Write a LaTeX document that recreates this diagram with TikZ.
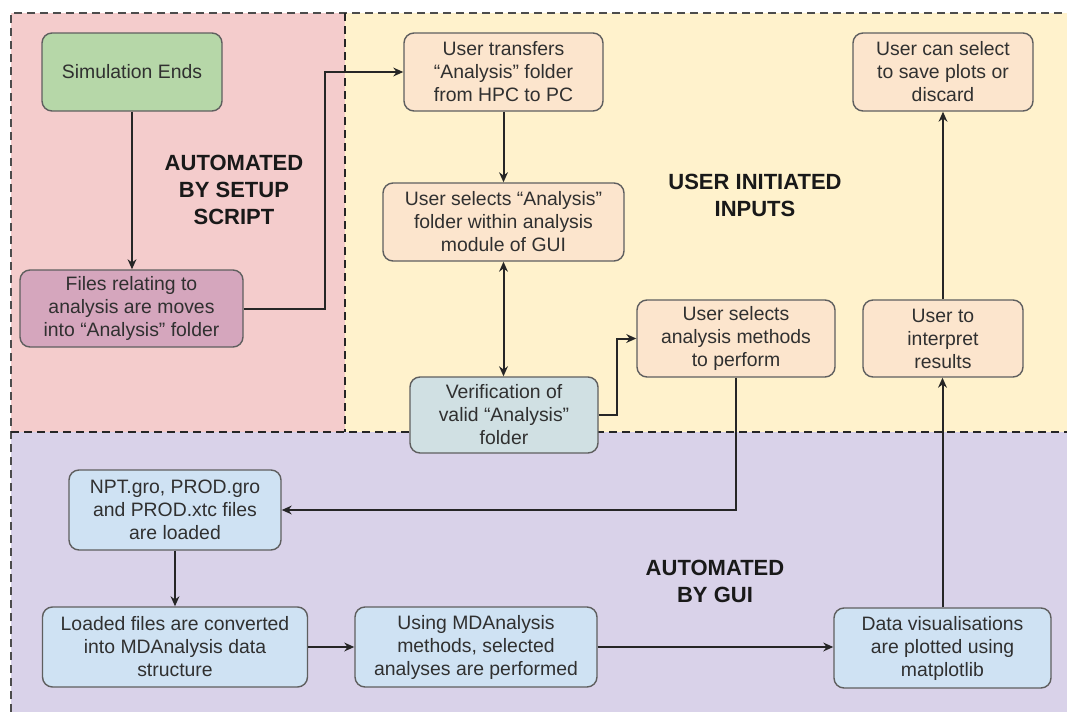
\documentclass[tikz,border=0pt]{standalone}
\usepackage{fontspec}
\setmainfont{Liberation Sans}
\usetikzlibrary{arrows.meta,calc}
\definecolor{cpink}{HTML}{F4CCCC}
\definecolor{cyellow}{HTML}{FFF2CC}
\definecolor{cpurple}{HTML}{D9D2E9}
\definecolor{cgreen}{HTML}{B6D7A8}
\definecolor{cmag}{HTML}{D5A6BD}
\definecolor{cpeach}{HTML}{FCE5CD}
\definecolor{cblue}{HTML}{CFE2F3}
\definecolor{ccyan}{HTML}{D0E0E3}
\definecolor{boxline}{HTML}{5F5F5F}
\definecolor{txt}{HTML}{303030}
\begin{document}
\begin{tikzpicture}[x=0.5pt,y=-0.5pt,
  box/.style={draw=boxline, rounded corners=5pt, align=center, inner sep=0pt,
    line width=0.7pt, text=txt, font=\fontsize{9.7}{11.5}\selectfont},
  arr/.style={draw=black!85, line width=1pt, -{Stealth[length=5pt,width=4.4pt]}},
  arrtwo/.style={draw=black!85, line width=1pt, {Stealth[length=5pt,width=4.4pt]}-{Stealth[length=5pt,width=4.4pt]}},
  divider/.style={draw=black!85, line width=0.9pt, dash pattern=on 4pt off 2.5pt},
  lbl/.style={align=center, font=\fontsize{11}{13.5}\selectfont\bfseries, text=black!90}]
\useasboundingbox (0,0) rectangle (1067,712);
% regions
\fill[cpink] (11,13) rectangle (345,432);
\fill[cyellow] (345,13) rectangle (1067,432);
\fill[cpurple] (11,432) rectangle (1067,712);
\draw[divider, draw=black!70, line width=0.7pt] (11,712) -- (11,13) -- (1067,13);
\draw[divider] (345,13) -- (345,432);
\draw[divider] (11,432) -- (1067,432);
% labels
\node[lbl] (lsetup) at (234,190) {AUTOMATED\\BY SETUP\\SCRIPT};
\node[lbl] (luser) at (755,195) {USER INITIATED\\INPUTS};
\node[lbl] (lgui) at (715,581) {AUTOMATED\\BY GUI};
% nodes
\node[box, fill=cgreen, minimum width=90pt, minimum height=39pt] (sim) at (132,72) {Simulation Ends};
\node[box, fill=cmag, minimum width=111.5pt, minimum height=38.5pt] (files) at (131.5,308.5) {Files relating to\\analysis are moves\\into “Analysis” folder};
\node[box, fill=cpeach, minimum width=99.5pt, minimum height=39pt] (transfer) at (503.5,72) {User transfers\\“Analysis” folder\\from HPC to PC};
\node[box, fill=cpeach, minimum width=120.5pt, minimum height=39pt] (select) at (503.5,222) {User selects “Analysis”\\folder within analysis\\module of GUI};
\node[box, fill=ccyan, minimum width=94pt, minimum height=38pt] (verify) at (504,415) {Verification of\\valid “Analysis”\\folder};
\node[box, fill=cpeach, minimum width=99pt, minimum height=38.5pt] (methods) at (736,338.5) {User selects\\analysis methods\\to perform};
\node[box, fill=cpeach, minimum width=80pt, minimum height=38.5pt] (interp) at (943,338.5) {User to\\interpret\\results};
\node[box, fill=cpeach, minimum width=90pt, minimum height=39pt] (save) at (943,72) {User can select\\to save plots or\\discard};
\node[box, fill=cblue, minimum width=106pt, minimum height=40pt] (npt) at (175,510) {NPT.gro, PROD.gro\\and PROD.xtc files\\are loaded};
\node[box, fill=cblue, minimum width=132.5pt, minimum height=40pt] (loaded) at (175,647) {Loaded files are converted\\into MDAnalysis data\\structure};
\node[box, fill=cblue, minimum width=121pt, minimum height=40pt] (using) at (476,647) {Using MDAnalysis\\methods, selected\\analyses are performed};
\node[box, fill=cblue, minimum width=108.5pt, minimum height=40pt] (vis) at (942.5,648) {Data visualisations\\are plotted using\\matplotlib};
% junctions
\coordinate (j1) at (325,0);
\coordinate (j2) at (617,0);
% connectors
\draw[arr] (sim.south) -- (sim.south |- files.north);
\draw[arr] (files.east) -- (files.east -| j1) -- (j1 |- transfer.west) -- (transfer.west);
\draw[arr] (transfer) -- (select);
\draw[arrtwo] (select.south) -- (select.south |- verify.north);
\draw[arr] (verify.east) -- (verify.east -| j2) -- (j2 |- methods.west) -- (methods.west);
\draw[arr] (methods.south) -- (methods.south |- npt.east) -- (npt.east);
\draw[arr] (npt) -- (loaded);
\draw[arr] (loaded) -- (using);
\draw[arr] (using.east) -- (using.east -| vis.west);
\draw[arr] (vis.north) -- (vis.north |- interp.south);
\draw[arr] (interp) -- (save);
\end{tikzpicture}
\end{document}
